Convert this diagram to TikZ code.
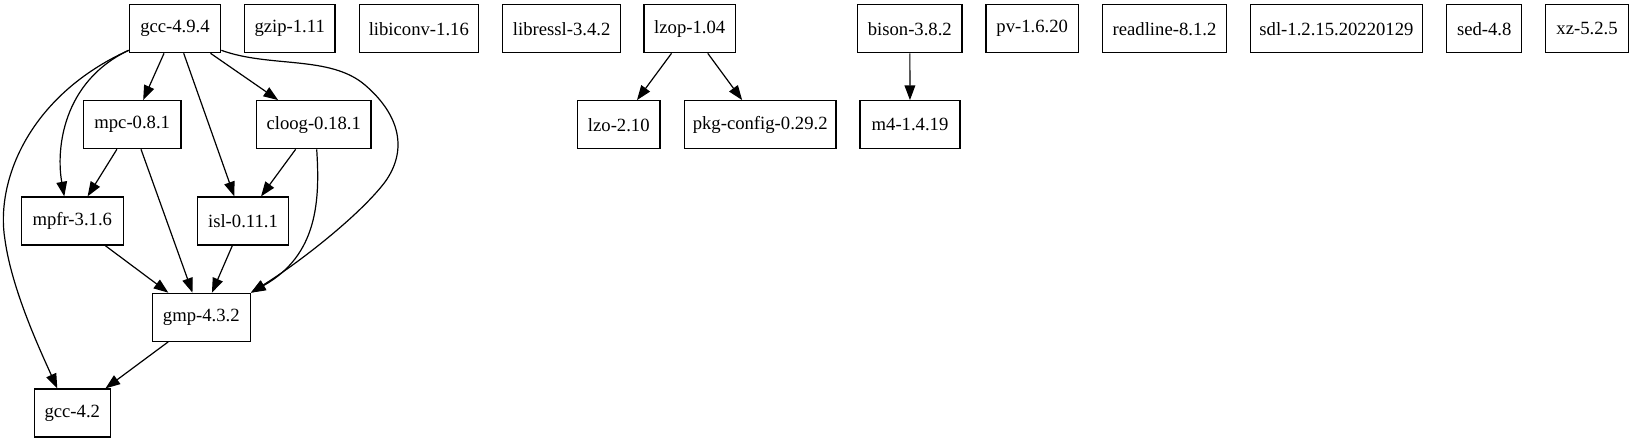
\documentclass[tikz,border=0pt]{standalone}
\usepackage{fontspec}
\setmainfont{Liberation Serif}
\usetikzlibrary{arrows.meta,calc}
\begin{document}
\begin{tikzpicture}[x=0.75pt,y=-0.75pt,
  pkg/.style={draw,rectangle,line width=0.9pt,minimum height=36pt,inner sep=0pt,
    font=\fontsize{14}{16}\selectfont},
  dep/.style={line width=0.9pt,-{Triangle[length=11pt,width=8pt]}}]
\useasboundingbox (0,0) rectangle (1634,443);
% row 1
\node[pkg,minimum width=68.6pt] (gcc494) at (175,28.7) {gcc-4.9.4};
\node[pkg,minimum width=68pt] (gzip) at (289.7,28.7) {gzip-1.11};
\node[pkg,minimum width=89.3pt] (libiconv) at (418.8,28.7) {libiconv-1.16};
\node[pkg,minimum width=88.5pt] (libressl) at (561.7,28.7) {libressl-3.4.2};
\node[pkg,minimum width=68.5pt] (lzop) at (689.7,28.7) {lzop-1.04};
\node[pkg,minimum width=78.2pt] (bison) at (909.8,28.7) {bison-3.8.2};
\node[pkg,minimum width=69.2pt] (pv) at (1032.2,28.7) {pv-1.6.20};
\node[pkg,minimum width=92.7pt] (readline) at (1164.5,28.7) {readline-8.1.2};
\node[pkg,minimum width=129.2pt] (sdl) at (1336.4,28.7) {sdl-1.2.15.20220129};
\node[pkg,minimum width=56.3pt] (sed) at (1484.2,28.7) {sed-4.8};
\node[pkg,minimum width=62.6pt] (xz) at (1587,28.7) {xz-5.2.5};
% row 2
\node[pkg,minimum width=73.3pt] (mpc) at (132.2,124.7) {mpc-0.8.1};
\node[pkg,minimum width=86pt] (cloog) at (313.7,124.7) {cloog-0.18.1};
\node[pkg,minimum width=61.7pt] (lzo) at (618.8,124.7) {lzo-2.10};
\node[pkg,minimum width=113.8pt] (pkgconfig) at (760.2,124.7) {pkg-config-0.29.2};
\node[pkg,minimum width=75pt] (m4) at (910,124.7) {m4-1.4.19};
% row 3
\node[pkg,minimum width=76.5pt] (mpfr) at (72.3,221) {mpfr-3.1.6};
\node[pkg,minimum width=68pt] (isl) at (243,221) {isl-0.11.1};
% row 4
\node[pkg,minimum width=73.5pt] (gmp) at (201.3,317.3) {gmp-4.3.2};
% row 5
\node[pkg,minimum width=57pt] (gcc42) at (72.3,413) {gcc-4.2};
% straight edges
\draw[dep] (gcc494) -- (mpc);
\draw[dep] (gcc494) -- (isl);
\draw[dep] (gcc494) -- (cloog);
\draw[dep] (mpc) -- (mpfr);
\draw[dep] (mpc) -- (gmp);
\draw[dep] (cloog) -- (isl);
\draw[dep] (mpfr) -- (gmp);
\draw[dep] (isl) -- (gmp);
\draw[dep] (gmp) -- (gcc42);
\draw[dep] (lzop) -- (lzo);
\draw[dep] (lzop) -- (pkgconfig);
\draw[dep] (bison) -- (m4);
% curved edges
\draw[dep] ($(gcc494.south west)+(0,-3)$) .. controls (62,82) and (56,150) .. ($(mpfr.north)+(-8,0)$);
\draw[dep] ($(gcc494.south west)+(0,-3)$) .. controls (30,95) and (-5,180) .. (5,240)
  .. controls (12,290) and (40,350) .. ($(gcc42.north)+(-15,0)$);
\draw[dep] ($(gcc494.south east)+(0,-3)$) .. controls (270,68) and (330,55) .. (365,85)
  .. controls (400,115) and (408,150) .. (385,182)
  .. controls (360,215) and (300,262) .. (gmp.north east);
\draw[dep] ($(cloog.south)+(3,0)$) .. controls (320,200) and (318,255) .. (gmp.north east);
\end{tikzpicture}
\end{document}
